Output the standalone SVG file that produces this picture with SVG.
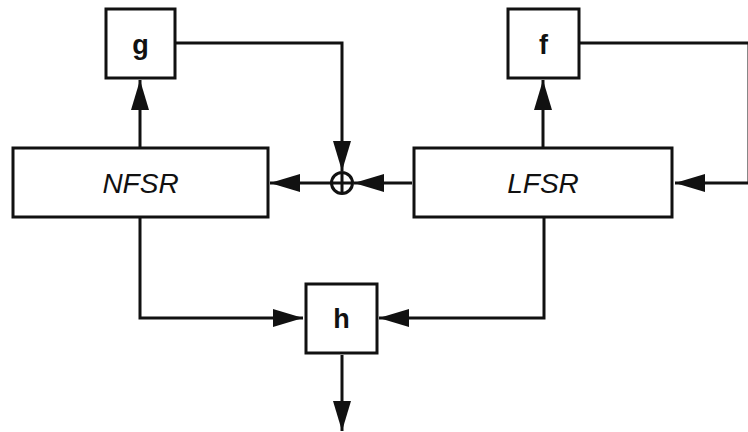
<svg xmlns="http://www.w3.org/2000/svg" width="748" height="432" viewBox="0 0 748 432">
<style>
.box{fill:#fff;stroke:#111;stroke-width:3}
.ln{fill:none;stroke:#111;stroke-width:3}
.lbl{font-family:"Liberation Sans",Arial,sans-serif;font-size:28px;fill:#111;text-anchor:middle}
.it{font-style:italic}
.b{font-weight:bold;font-size:27px}
</style>
<defs>
<marker id="ah" markerUnits="userSpaceOnUse" markerWidth="32" markerHeight="20" refX="30" refY="10" orient="auto">
<path d="M0,1 L30,10 L0,19 Z" fill="#111"/>
</marker>
</defs>
<g id="connectors">
<path class="ln" d="M140,147 V80" marker-end="url(#ah)"/>
<path class="ln" d="M176,43 H342 V171" marker-end="url(#ah)"/>
<path class="ln" d="M331,183 H270" marker-end="url(#ah)"/>
<path class="ln" d="M412,183 H354" marker-end="url(#ah)"/>
<path class="ln" d="M543,147 V80" marker-end="url(#ah)"/>
<path class="ln" d="M580,43 H749 V183 H675" marker-end="url(#ah)"/>
<path class="ln" d="M140,218 V318 H303" marker-end="url(#ah)"/>
<path class="ln" d="M544,218 V318 H379" marker-end="url(#ah)"/>
<path class="ln" d="M342,355 V431" marker-end="url(#ah)"/>
</g>
<g id="xor">
<circle cx="342" cy="183" r="10.5" class="ln"/>
<path class="ln" d="M331.5,183 H352.5 M342,172.5 V193.5"/>
</g>
<g id="node-g">
<rect class="box" x="106" y="9" width="69" height="69"/>
<text class="lbl b" x="140.5" y="54">g</text>
</g>
<g id="node-f">
<rect class="box" x="508" y="9" width="71" height="69"/>
<text class="lbl b" x="543.5" y="54">f</text>
</g>
<g id="node-nfsr">
<rect class="box" x="13" y="148" width="255" height="69"/>
<text class="lbl it" x="140.5" y="193">NFSR</text>
</g>
<g id="node-lfsr">
<rect class="box" x="414" y="148" width="258" height="69"/>
<text class="lbl it" x="543" y="193">LFSR</text>
</g>
<g id="node-h">
<rect class="box" x="306" y="284" width="71" height="69"/>
<text class="lbl b" x="341.5" y="328">h</text>
</g>
</svg>
